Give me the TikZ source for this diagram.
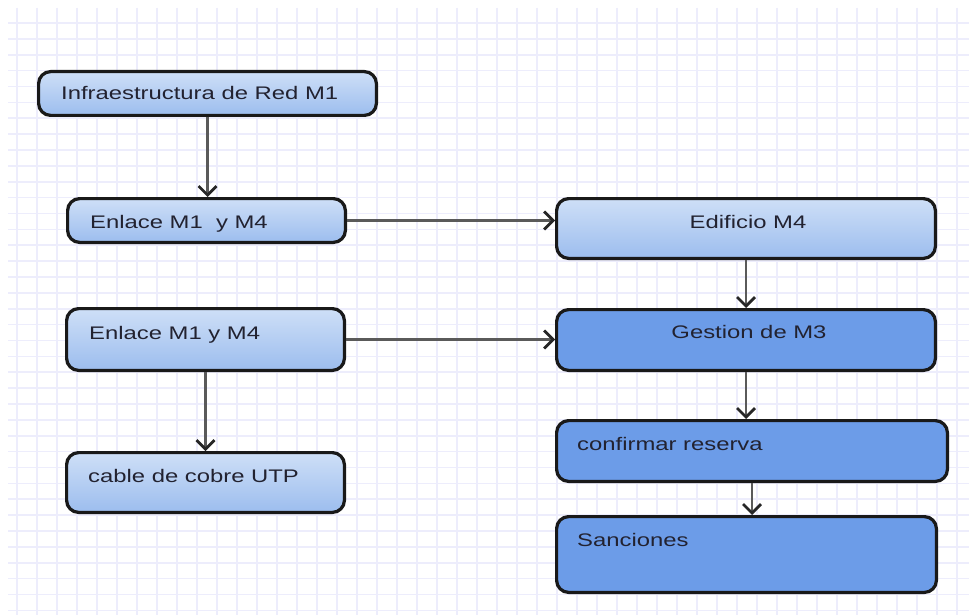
\documentclass[tikz,border=0pt]{standalone}
\usepackage{fontspec}
\setmainfont{Liberation Sans}[FakeStretch=1.31]
\usetikzlibrary{arrows.meta}

\definecolor{gridline}{RGB}{237,237,252}
\definecolor{lighttop}{RGB}{206,223,247}
\definecolor{lightbot}{RGB}{156,189,238}
\definecolor{darkfill}{RGB}{108,156,232}
\definecolor{linkgray}{RGB}{90,90,90}
\definecolor{txtdark}{RGB}{34,34,48}

\tikzset{
  x=1pt, y=-1pt,
  boxbase/.style={draw=black!90, line width=3.2pt, rounded corners=12pt, inner sep=0pt},
  lightbox/.style={boxbase, top color=lighttop, bottom color=lightbot},
  darkbox/.style={boxbase, fill=darkfill},
  lbl/.style={inner sep=0pt, text=txtdark, font=\fontsize{18.2}{20}\selectfont},
  link/.style={draw=linkgray, line width=2.8pt,
    -{Straight Barb[length=9pt,width=18pt,line width=2.8pt,color=black!85]}},
}

\begin{document}
\begin{tikzpicture}
\useasboundingbox (0,0) rectangle (969,615);
\fill[white] (0,0) rectangle (969,615);

% background grid
\foreach \gx in {17,37,...,969}
  \draw[gridline, line width=1.6pt] (\gx,8) -- (\gx,615);
\foreach \k in {0,...,37}
  \draw[gridline, line width=1.6pt] (8,23+15.875*\k) -- (969,23+15.875*\k);

% boxes
\node[lightbox, minimum width=337.8pt, minimum height=43.8pt] (infra) at (207.5,93.5) {};
\node[lightbox, minimum width=277.8pt, minimum height=43.8pt] (enl1)  at (206.5,220.5) {};
\node[lightbox, minimum width=378.8pt, minimum height=59.8pt] (edif)  at (746,228.5) {};
\node[lightbox, minimum width=277.8pt, minimum height=61.8pt] (enl2)  at (205.5,339.5) {};
\node[darkbox,  minimum width=378.8pt, minimum height=60.8pt] (gest)  at (746,340) {};
\node[lightbox, minimum width=277.8pt, minimum height=59.8pt] (cable) at (205.5,482.5) {};
\node[darkbox,  minimum width=390.8pt, minimum height=60.8pt] (conf)  at (752,451) {};
\node[darkbox,  minimum width=379.8pt, minimum height=75.8pt] (sanc)  at (746.5,554.5) {};

% labels
\node[lbl, anchor=base west] (tinfra) at (61,100) {Infraestructura de Red M1};
\node[lbl, anchor=base west] (tenl1)  at (90,228) {Enlace M1\ \ y M4};
\node[lbl, anchor=base]      (tedif)  at (748,228) {Edificio M4};
\node[lbl, anchor=base west] (tenl2)  at (89,339) {Enlace M1 y M4};
\node[lbl, anchor=base]      (tgest)  at (749,338) {Gestion de M3};
\node[lbl, anchor=base west] (tcable) at (88,482) {cable de cobre UTP};
\node[lbl, anchor=base west] (tconf)  at (577,450) {confirmar reserva};
\node[lbl, anchor=base west] (tsanc)  at (577,546) {Sanciones};

% connectors
\draw[link] (infra.south) -- (infra.south |- enl1.north);
\draw[link] (enl1.east) -- (enl1.east -| edif.west);
\draw[link] (edif.south) -- (edif.south |- gest.north);
\draw[link] (enl2.east) -- (enl2.east -| gest.west);
\draw[link] (enl2.south) -- (enl2.south |- cable.north);
\draw[link] (gest.south) -- (gest.south |- conf.north);
\draw[link] (conf.south) -- (conf.south |- sanc.north);
\end{tikzpicture}
\end{document}
